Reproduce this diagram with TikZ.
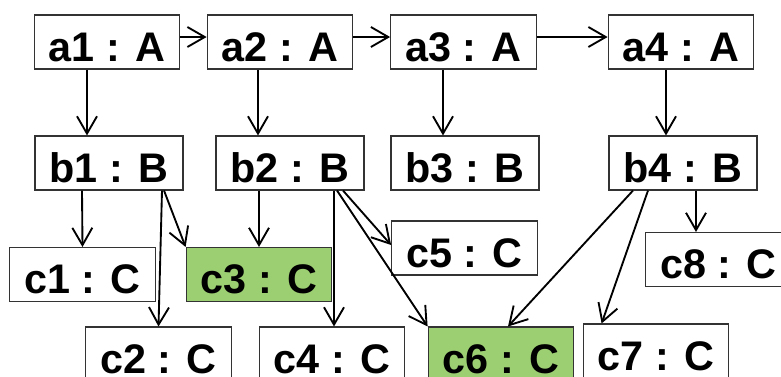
\documentclass[tikz,border=0pt]{standalone}
\usepackage{fontspec}
\setmainfont{Liberation Sans}
\usetikzlibrary{arrows.meta,calc}
\definecolor{objgreen}{HTML}{9CCE72}
\definecolor{objline}{HTML}{333333}
\tikzset{
  objbox/.style={draw=objline, line width=0.8pt, fill=white,
    font=\fontsize{31}{36}\selectfont\bfseries,
    inner xsep=11pt, inner ysep=6pt, text height=28.5pt, text depth=0pt},
  greenobj/.style={objbox, fill=objgreen},
  arr/.style={-{Straight Barb[length=13pt,width=15pt]}, line width=1.4pt, draw=black}
}
\begin{document}
\begin{tikzpicture}[x=0.75pt,y=-0.75pt]
  \useasboundingbox (0,0) rectangle (781,376);
  \node[objbox] (a1) at (107,42) {a1 : A};
  \node[objbox] (a2) at (280,42) {a2 : A};
  \node[objbox] (a3) at (463.5,42) {a3 : A};
  \node[objbox] (a4) at (681,42) {a4 : A};
  \node[objbox] (b1) at (109,163) {b1 : B};
  \node[objbox] (b2) at (290,163) {b2 : B};
  \node[objbox] (b3) at (465,163) {b3 : B};
  \node[objbox] (b4) at (683,163) {b4 : B};
  \node[objbox] (c1) at (82.5,274.5) {c1 : C};
  \node[greenobj] (c3) at (259,274.5) {c3 : C};
  \node[objbox] (c5) at (464.5,248) {c5 : C};
  \node[objbox] (c8) at (718.5,259.5) {c8 : C};
  \node[objbox] (c2) at (158.5,354) {c2 : C};
  \node[objbox] (c4) at (332,354) {c4 : C};
  \node[greenobj] (c6) at (501,354) {c6 : C};
  \node[objbox] (c7) at (656,351) {c7 : C};
  \draw[arr] ($(a1.east)+(0,-5)$) -- ($(a2.west)+(0,-5)$);
  \draw[arr] ($(a2.east)+(0,-5)$) -- ($(a3.west)+(0,-5)$);
  \draw[arr] ($(a3.east)+(0,-5)$) -- ($(a4.west)+(0,-5)$);
  \draw[arr] ($(a1.south)+(-20,0)$) -- ($(b1.north)+(-22,0)$);
  \draw[arr] ($(a2.south)+(-22,0)$) -- ($(b2.north)+(-32,0)$);
  \draw[arr] ($(a3.south)+(-20.5,0)$) -- ($(b3.north)+(-22,0)$);
  \draw[arr] ($(a4.south)+(-15,0)$) -- ($(b4.north)+(-17,0)$);
  \draw[arr] ($(b1.south)+(-27,0)$) -- (c1.north);
  \draw[arr] ($(b1.south)+(53,0)$) -- (c2.north);
  \draw[arr] ($(b1.south)+(55,0)$) -- (c3.north west);
  \draw[arr] ($(b2.south)+(-31,0)$) -- (c3.north);
  \draw[arr] ($(b2.south)+(44,0)$) -- ($(c4.north)+(2,0)$);
  \draw[arr] ($(b2.south)+(53,0)$) -- ($(c5.west)+(0,-3)$);
  \draw[arr] ($(b2.south)+(47,0)$) -- (c6.north west);
  \draw[arr] ($(b4.south)+(-50,0)$) -- ($(c6.north)+(7,0)$);
  \draw[arr] ($(b4.south)+(-35,0)$) -- ($(c7.north west)+(19,0)$);
  \draw[arr] ($(b4.south)+(13,0)$) -- ($(c8.north)+(-22.5,0)$);
\end{tikzpicture}
\end{document}
